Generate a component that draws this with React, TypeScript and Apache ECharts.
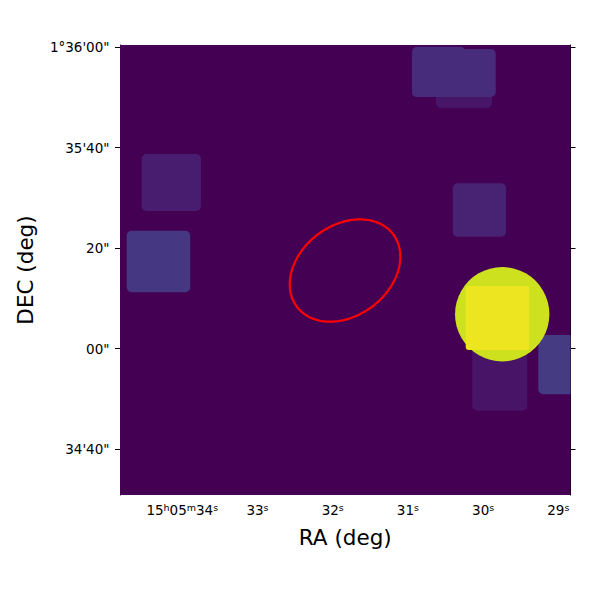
import React, { useEffect, useRef } from "react";
import * as echarts from "echarts";

// RA in seconds of time past 15h05m, Dec in arcsec past +1°35'00"
const raMin = 28.838;
const raMax = 34.828;
const decMin = -29.18;
const decMax = 60.46;

const xTickValues = [34, 33, 32, 31, 30, 29];
const xTickLabels = ["15h05m34s", "33s", "32s", "31s", "30s", "29s"];
const yTickValues = [60, 40, 20, 0, -20];
const yTickLabels = ["1°36'00\"", "35'40\"", "20\"", "00\"", "34'40\""];

// image blocks: east RA, west RA, north Dec, south Dec, pixel level (0..1)
const blockRaEast = [36.0, 34.54, 34.739, 30.626, 30.945, 30.945, 30.404, 30.144, 29.266];
const blockRaWest = [27.0, 33.751, 33.894, 29.882, 30.241, 29.832, 29.695, 29.412, 28.6];
const blockDecNorth = [70.0, 38.75, 23.47, 59.66, 60.12, 59.66, 32.91, 0.7, 2.69];
const blockDecSouth = [-40.0, 27.39, 11.2, 47.91, 50.1, 50.1, 22.27, -12.39, -9.12];
const blockLevel = [0.0, 0.075, 0.158, 0.055, 0.125, 0.125, 0.095, 0.05, 0.17];

// bright source: halo disc (center RA, center Dec, radius arcsec, level)
const haloSource = [29.746, 6.83, 9.4, 0.925];
// bright source core: east RA, west RA, north Dec, south Dec, level
const coreSource = [30.231, 29.386, 12.45, -0.3, 0.975];

// region ellipse: center RA, center Dec, semi-major arcsec, semi-minor arcsec, angle deg
const regionEllipse = [31.836, 15.54, 12.0, 9.0, 37];

const viridis = [
  "#440154", "#481568", "#482677", "#453781", "#3F4788", "#39558C", "#32648E",
  "#2D718E", "#287D8E", "#238A8D", "#1F968B", "#20A386", "#29AF7F", "#3CBC75",
  "#56C667", "#75D054", "#95D840", "#BADE28", "#DCE318", "#FDE725",
];

const FONT = "DejaVu Sans";

function cmap(v: number) {
  return echarts.color.lerp(Math.max(0, Math.min(1, v)), viridis) as string;
}

function rectItem(params: any, api: any, radius: number) {
  const p1 = api.coord([api.value(0), api.value(2)]);
  const p2 = api.coord([api.value(1), api.value(3)]);
  const cs = params.coordSys;
  return {
    type: "rect",
    shape: {
      x: Math.min(p1[0], p2[0]),
      y: Math.min(p1[1], p2[1]),
      width: Math.abs(p2[0] - p1[0]),
      height: Math.abs(p2[1] - p1[1]),
      r: radius,
    },
    style: { fill: cmap(api.value(4)) },
    clipPath: { type: "rect", shape: { x: cs.x, y: cs.y, width: cs.width, height: cs.height } },
  };
}

function formatX(v: number) {
  const i = xTickValues.findIndex((t) => Math.abs(t - v) < 1e-6);
  if (i < 0) return "";
  return xTickLabels[i].replace(/(\d+)([hms])/g, "{n|$1}{s|$2}");
}
function formatY(v: number) {
  const i = yTickValues.findIndex((t) => Math.abs(t - v) < 1e-6);
  return i < 0 ? "" : yTickLabels[i];
}

export default function App() {
  const ref = useRef<HTMLDivElement>(null);
  useEffect(() => {
    if (!ref.current) return;
    const chart = echarts.init(ref.current, undefined, { renderer: "svg" });

    const blocks = blockRaEast.map((e, i) => [e, blockRaWest[i], blockDecNorth[i], blockDecSouth[i], blockLevel[i]]);

    const axisLine = { show: true, lineStyle: { color: "#000", width: 1 } };
    const tickStyle = { color: "#000", width: 1 };

    const option: any = {
      animation: false,
      backgroundColor: "#ffffff",
      grid: { left: 120, top: 45, right: 29.5, bottom: 105, containLabel: false, outerBoundsMode: "none" },
      xAxis: [
        {
          type: "value",
          min: raMin,
          max: raMax,
          inverse: true,
          position: "bottom",
          name: "RA (deg)",
          nameLocation: "middle",
          nameGap: 31,
          nameTextStyle: { fontFamily: FONT, fontSize: 21.5, color: "#000" },
          axisLine,
          axisTick: { show: true, inside: false, length: 5, lineStyle: tickStyle, customValues: xTickValues },
          axisLabel: {
            show: true,
            margin: 7,
            customValues: xTickValues,
            formatter: formatX,
            color: "#000",
            fontFamily: FONT,
            fontSize: 13.5,
            rich: {
              n: { fontFamily: FONT, fontSize: 13.5, lineHeight: 15, color: "#000" },
              s: { fontFamily: FONT, fontSize: 9.5, lineHeight: 10, verticalAlign: "top", color: "#000" },
            },
          },
          splitLine: { show: false },
        },
        {
          type: "value",
          min: raMin,
          max: raMax,
          inverse: true,
          position: "top",
          axisLine,
          axisTick: { show: true, inside: false, length: 5, lineStyle: tickStyle, customValues: xTickValues },
          axisLabel: { show: false },
          splitLine: { show: false },
        },
      ],
      yAxis: [
        {
          type: "value",
          min: decMin,
          max: decMax,
          position: "left",
          name: "DEC (deg)",
          nameLocation: "middle",
          nameGap: 84,
          nameTextStyle: { fontFamily: FONT, fontSize: 21.5, color: "#000" },
          axisLine,
          axisTick: { show: true, inside: false, length: 5, lineStyle: tickStyle, customValues: yTickValues },
          axisLabel: {
            show: true,
            margin: 10.5,
            customValues: yTickValues,
            formatter: formatY,
            color: "#000",
            fontFamily: FONT,
            fontSize: 13.5,
          },
          splitLine: { show: false },
        },
        {
          type: "value",
          min: decMin,
          max: decMax,
          position: "right",
          axisLine,
          axisTick: { show: true, inside: false, length: 5, lineStyle: tickStyle, customValues: yTickValues },
          axisLabel: { show: false },
          splitLine: { show: false },
        },
      ],
      series: [
        {
          type: "custom",
          name: "image",
          xAxisIndex: 0,
          yAxisIndex: 0,
          data: blocks,
          encode: { x: [0, 1], y: [2, 3] },
          renderItem: (params: any, api: any) => rectItem(params, api, params.dataIndex === 0 ? 0 : 5),
          silent: true,
        },
        {
          type: "custom",
          name: "halo",
          xAxisIndex: 0,
          yAxisIndex: 0,
          data: [haloSource],
          encode: { x: 0, y: 1 },
          renderItem: (params: any, api: any) => {
            const c = api.coord([api.value(0), api.value(1)]);
            const r = api.size([0, api.value(2)])[1];
            const cs = params.coordSys;
            return {
              type: "circle",
              shape: { cx: c[0], cy: c[1], r },
              style: { fill: cmap(api.value(3)) },
              clipPath: { type: "rect", shape: { x: cs.x, y: cs.y, width: cs.width, height: cs.height } },
            };
          },
          silent: true,
        },
        {
          type: "custom",
          name: "core",
          xAxisIndex: 0,
          yAxisIndex: 0,
          data: [coreSource],
          encode: { x: [0, 1], y: [2, 3] },
          renderItem: (params: any, api: any) => rectItem(params, api, 3),
          silent: true,
        },
        {
          type: "custom",
          name: "region",
          xAxisIndex: 0,
          yAxisIndex: 0,
          data: [regionEllipse],
          encode: { x: 0, y: 1 },
          renderItem: (params: any, api: any) => {
            const c = api.coord([api.value(0), api.value(1)]);
            const pxPerArcsec = api.size([0, 1])[1];
            const a = api.value(2) * pxPerArcsec;
            const b = api.value(3) * pxPerArcsec;
            const th = (api.value(4) * Math.PI) / 180;
            const pts: number[][] = [];
            const n = 180;
            for (let k = 0; k < n; k++) {
              const t = (2 * Math.PI * k) / n;
              const ex = a * Math.cos(t);
              const ey = b * Math.sin(t);
              pts.push([c[0] + ex * Math.cos(th) - ey * Math.sin(th), c[1] - (ex * Math.sin(th) + ey * Math.cos(th))]);
            }
            return {
              type: "polygon",
              shape: { points: pts },
              style: { fill: "none", stroke: "#ff0000", lineWidth: 2.2 },
            };
          },
          silent: true,
        },
      ],
    };
    chart.setOption(option);
    return () => chart.dispose();
  }, []);
  return <div ref={ref} style={{ position: "absolute", left: 0, top: 0, width: 600, height: 600 }} />;
}
